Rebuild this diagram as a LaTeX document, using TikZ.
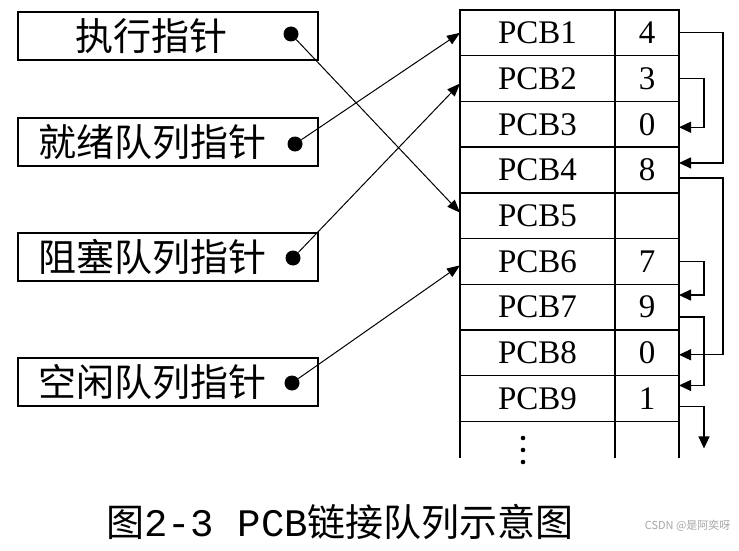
\documentclass[tikz,border=0pt]{standalone}
\usepackage{fontspec}
\setmainfont{Liberation Serif}
\newfontfamily\cjk{Noto Sans CJK SC}
\newfontfamily\mono{Liberation Mono}
\usepackage{xcolor}
\usepackage{tikz}
\usetikzlibrary{arrows.meta,positioning,calc}

\begin{document}
\begin{tikzpicture}[
    x=1pt, y=-1pt,
    ptrbox/.style={draw, rectangle, line width=1.4pt, minimum width=300pt, minimum height=48pt, inner sep=0pt},
    ptrtext/.style={font=\cjk\fontsize{38}{40}\selectfont, inner sep=0pt},
    ptrdot/.style={circle, fill=black, minimum size=15pt, inner sep=0pt},
    pcbname/.style={draw, rectangle, line width=1.4pt, minimum width=155pt, minimum height=45.7pt, inner sep=0pt, outer sep=0pt, font=\fontsize{33}{35}\selectfont},
    pcbval/.style={pcbname, minimum width=64pt},
    arrow/.style={-{Triangle[length=13pt, width=10pt]}, line width=1pt},
    link/.style={-{Triangle[length=12pt, width=11pt]}, line width=1.2pt}
]
\useasboundingbox (0,0) rectangle (739,551);

% Pointers on the left
\node[ptrbox] (exec) at (168,36) {};
\node[ptrtext] (exectext) at (151,36) {执行指针};
\node[ptrdot] (execdot) at (291,34) {};

\node[ptrbox] (ready) at (168,142) {};
\node[ptrtext] (readytext) at (152,142) {就绪队列指针};
\node[ptrdot] (readydot) at (295,144) {};

\node[ptrbox] (blocked) at (168,257) {};
\node[ptrtext] (blockedtext) at (152,257) {阻塞队列指针};
\node[ptrdot] (blockeddot) at (293,258) {};

\node[ptrbox] (free) at (168,382) {};
\node[ptrtext] (freetext) at (152,382) {空闲队列指针};
\node[ptrdot] (freedot) at (292,383) {};

% PCB table
\foreach \i/\v in {1/4,2/3,3/0,4/8,5/,6/7,7/9,8/0,9/1} {
    \node[pcbname] (pcb\i) at (537.5, {10+45.7*(\i-0.5)}) {PCB\i};
    \node[pcbval, right=0pt of pcb\i] (val\i) {\v};
}
\draw[line width=1.4pt] (pcb9.south west) -- ++(0,37);
\draw[line width=1.4pt] (pcb9.south east) -- ++(0,37);
\draw[line width=1.4pt] (val9.south east) -- ++(0,37);
\foreach \y in {438,450,462}
    \fill (523,\y) circle (2.3pt);

% Queue heads
\draw[arrow] (execdot) -- ([yshift=3pt]pcb5.west);
\draw[arrow] (readydot) -- (pcb1.west);
\draw[arrow] (blockeddot) -- ([yshift=-5pt]pcb2.west);
\draw[arrow] (freedot) -- ([yshift=-4pt]pcb6.west);

% Links between PCBs
\draw[link] (val1.east) -- ++(44,0) |- ([yshift=7pt]val4.east);
\draw[link] (val2.east) -- ++(25,0) |- ([yshift=-3pt]val3.east);
\draw[link] ([yshift=-8pt]val4.east) -- ++(44,0) |- ([yshift=-2pt]val8.east);
\draw[link] (val6.east) -- ++(25,0) |- ([yshift=12pt]val7.east);
\draw[link] ([yshift=-10pt]val7.east) -- ++(25,0) |- ([yshift=13pt]val9.east);
\draw[link] ([yshift=-8pt]val9.east) -- ++(25,0) -- ++(0,42);

% Caption
\node (caption) at (340,522) {{\cjk\fontsize{38}{40}\selectfont 图}{\mono\fontsize{39}{40}\selectfont 2-3 PCB}{\cjk\fontsize{38}{40}\selectfont 链接队列示意图}};
\node[text=gray!70, font=\cjk\fontsize{11}{12}\selectfont, anchor=east] (mark) at (734,526) {CSDN @是阿奕呀};

\end{tikzpicture}
\end{document}
